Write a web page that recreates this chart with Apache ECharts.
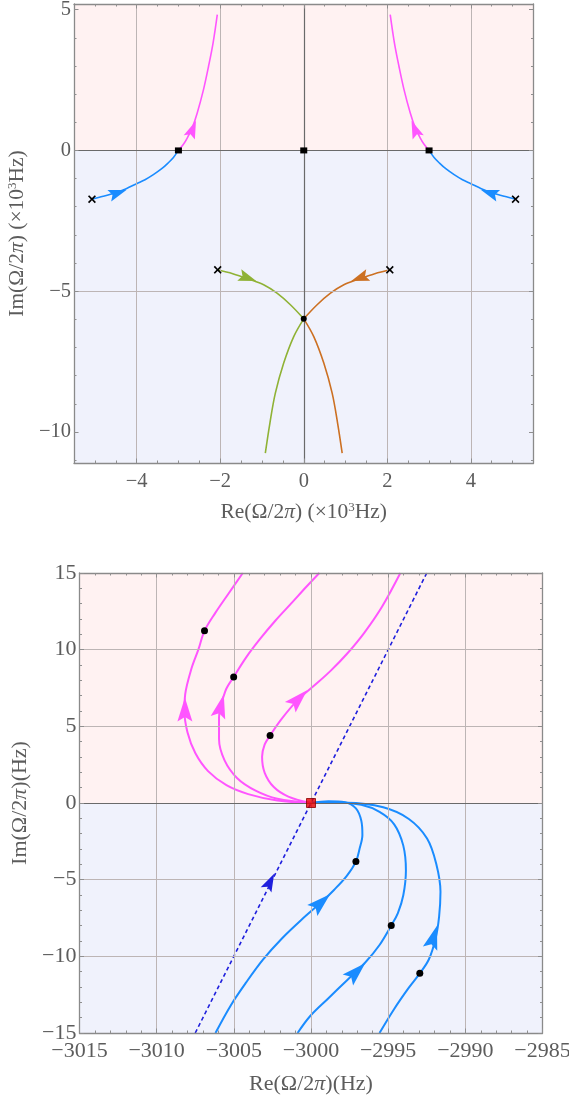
<!DOCTYPE html>
<html>
<head>
<meta charset="utf-8">
<script src="https://cdn.jsdelivr.net/npm/echarts@6/dist/echarts.min.js"></script>
<style>
  html, body { margin: 0; padding: 0; background: #fff; }
  #chart { width: 569px; height: 1097px; }
</style>
</head>
<body>
<div id="chart"></div>
<script>
// ---------- top panel, units of 10^3 Hz ----------
const topXRange = [-5.5, 5.5];
const topYRange = [-11.1, 5.2];
const topXTicks = [-4, -2, 0, 2, 4];
const topYTicks = [-10, -5, 0, 5];
const topXGrid = [-4, -2, 2, 4];
const topYGrid = [-5];

const topBlueLeft = [[-5.07, -1.73], [-4.8, -1.63], [-4.5, -1.5], [-4.25, -1.36], [-4.0, -1.18], [-3.8, -1.04],
  [-3.6, -0.86], [-3.4, -0.65], [-3.25, -0.45], [-3.12, -0.25], [-3.0, 0]];
const topBlueRight = [[5.07, -1.73], [4.8, -1.63], [4.5, -1.5], [4.25, -1.36], [4.0, -1.18], [3.8, -1.04],
  [3.6, -0.86], [3.4, -0.65], [3.25, -0.45], [3.12, -0.25], [3.0, 0]];
const topPinkLeft = [[-3.0, 0], [-2.88, 0.22], [-2.79, 0.44], [-2.67, 0.8], [-2.55, 1.33], [-2.4, 2.16],
  [-2.28, 2.98], [-2.17, 3.82], [-2.07, 4.82]];
const topPinkRight = [[3.0, 0], [2.88, 0.22], [2.79, 0.44], [2.67, 0.8], [2.55, 1.33], [2.4, 2.16],
  [2.28, 2.98], [2.17, 3.82], [2.07, 4.82]];
const topGreenUpper = [[-2.06, -4.24], [-1.7, -4.38], [-1.32, -4.57], [-0.96, -4.77], [-0.64, -5.07], [-0.32, -5.48], [0, -5.98]];
const topGreenLower = [[0, -5.98], [-0.24, -6.61], [-0.48, -7.55], [-0.68, -8.62], [-0.81, -9.68], [-0.92, -10.75]];
const topOrangeUpper = [[2.06, -4.24], [1.7, -4.38], [1.32, -4.57], [0.96, -4.77], [0.64, -5.07], [0.32, -5.48], [0, -5.98]];
const topOrangeLower = [[0, -5.98], [0.24, -6.61], [0.48, -7.55], [0.68, -8.62], [0.81, -9.68], [0.92, -10.75]];
const topCrosses = [[-5.07, -1.73], [5.07, -1.73], [-2.06, -4.24], [2.06, -4.24]];
const topSquares = [[-3, 0], [0, 0], [3, 0]];
const topDots = [[0, -5.98]];
// arrows: x, y, direction dx, dy
const topArrowsBlue = [[-4.45, -1.51, 0.55, 0.27], [4.45, -1.51, -0.55, 0.27]];
const topArrowsPink = [[-2.66, 0.76, 0.24, 0.89], [2.66, 0.76, -0.24, 0.89]];
const topArrowsGreen = [[-1.34, -4.53, 0.74, -0.39]];
const topArrowsOrange = [[1.34, -4.53, -0.74, -0.39]];

// ---------- bottom panel, units of Hz ----------
const botXRange = [-3015, -2985];
const botYRange = [-15, 15];
const botXTicks = [-3015, -3010, -3005, -3000, -2995, -2990, -2985];
const botYTicks = [-15, -10, -5, 0, 5, 10, 15];
const botXGrid = [-3010, -3005, -3000, -2995, -2990];
const botYGrid = [-10, -5, 5, 10];

const pinkOuter = [[-3000, 0], [-3002.18, 0.16], [-3004.07, 0.58], [-3005.48, 1.16], [-3006.67, 2.08], [-3007.49, 3.24],
  [-3008.0, 4.6], [-3008.2, 6.0], [-3008.15, 7.1], [-3007.75, 8.75], [-3007.3, 10.0], [-3006.9, 11.23],
  [-3006.2, 12.4], [-3005.35, 13.65], [-3004.42, 15.0]];
const pinkMid = [[-3000, 0], [-3002.18, 0.28], [-3003.59, 0.81], [-3004.78, 1.62], [-3005.6, 2.78], [-3005.96, 4.17],
  [-3005.96, 5.56], [-3005.55, 7.3], [-3005.01, 8.22], [-3004.2, 9.5], [-3003.3, 10.7], [-3002.3, 11.9],
  [-3001.25, 13.05], [-3000.3, 14.1], [-2999.46, 15.0]];
const pinkInner = [[-3000, 0], [-3001.47, 0.42], [-3002.41, 1.04], [-3003.0, 1.97], [-3003.17, 3.01], [-3003.0, 3.82],
  [-3002.65, 4.4], [-3001.94, 5.44], [-3000.87, 6.71], [-2999.81, 7.64], [-2998.75, 8.6], [-2997.65, 9.75],
  [-2996.55, 11.1], [-2995.4, 12.8], [-2994.21, 15.0]];
const blueInner = [[-3000, 0], [-2998.87, 0.12], [-2997.8, 0.05], [-2997.09, -0.35], [-2996.74, -1.16], [-2996.67, -2.08],
  [-2996.86, -3.01], [-2997.09, -3.82], [-2997.68, -4.75], [-2998.51, -5.67], [-2999.34, -6.48], [-3000.6, -7.6],
  [-3001.9, -8.85], [-3003.1, -10.2], [-3004.2, -11.7], [-3005.2, -13.2], [-3006.19, -15.0]];
const blueMid = [[-3000, 0], [-2998.39, 0.05], [-2996.74, -0.12], [-2995.56, -0.58], [-2994.61, -1.39], [-2994.02, -2.78],
  [-2993.85, -4.4], [-2994.02, -6.02], [-2994.37, -7.18], [-2994.8, -7.99], [-2995.56, -9.26], [-2996.5, -10.42],
  [-2997.68, -11.57], [-2998.87, -12.73], [-3000.05, -13.89], [-3000.87, -15.0]];
const blueOuter = [[-3000, 0], [-2997.68, 0.02], [-2995.32, -0.28], [-2993.66, -1.04], [-2992.48, -2.31], [-2991.89, -3.94],
  [-2991.61, -5.79], [-2991.7, -7.41], [-2991.92, -8.8], [-2992.36, -10.19], [-2992.95, -11.11], [-2993.66, -12.04],
  [-2994.61, -13.43], [-2995.56, -15.0]];
const dashedLine = [[-3007.5, -15], [-2992.5, 15]];
const botDots = [[-3006.9, 11.23], [-3005.01, 8.22], [-3002.65, 4.4], [-2997.09, -3.82], [-2994.8, -7.99], [-2992.95, -11.11]];
const botSquare = [[-3000, 0]];
const botArrowsPink = [[-3008.17, 6.1, 0, 1], [-3005.84, 6.32, 0.25, 1], [-3000.8, 6.8, 1, 1.03]];
const botArrowsBlue = [[-2999.34, -6.48, 1.09, 1], [-2997.05, -11.0, 1.03, 1], [-2992.06, -8.75, 0.3, 1]];
const botArrowsDash = [[-3002.65, -5.14, 1, 2]];

// ---------- styling ----------
const FONT = 'Liberation Serif';
const TXT = '#5c5c5c';
const FRAME = '#8a8a8a';
const TICK = '#8f8f8f';
const GRIDC = '#bdb5b5';
const PINK_BG = 'rgba(255,205,205,0.25)';
const BLUE_BG = 'rgba(228,231,250,0.55)';
const MAGENTA = '#ff55ff';
const BLUE = '#1a8cff';
const GREEN = '#8fb235';
const ORANGE = '#cc7022';
const DASHBLUE = '#1f1fdd';
const CROSS = 'path://M0,1.5L1.5,0L5,3.5L8.5,0L10,1.5L6.5,5L10,8.5L8.5,10L5,6.5L1.5,10L0,8.5L3.5,5Z';
const HEAD = 'path://M5,0L10,16L5,13L0,16Z';

const chart = echarts.init(document.getElementById('chart'));

const minus = v => String(v).replace('-', '\u2212');

function minorTicks(lo, hi, step, majors) {
  const out = [];
  for (let v = lo; v <= hi + 1e-9; v += step) {
    const r = Math.round(v * 1000) / 1000;
    if (!majors.includes(r)) out.push(r);
  }
  return out;
}

function nameRich(size) {
  return {
    i: { fontFamily: FONT, fontSize: size, color: TXT, fontStyle: 'italic' },
    s: { fontFamily: FONT, fontSize: Math.round(size * 0.62), color: TXT, verticalAlign: 'top' }
  };
}

// four frame sides per dimension: labelled side, its minor ticks, mirrored side, its minor ticks
function frameAxes(dim, gridIndex, range, major, minor, lab) {
  const sides = dim === 'x' ? ['bottom', 'top'] : ['left', 'right'];
  const axes = [];
  sides.forEach((pos, k) => {
    [major, minor].forEach((vals, m) => {
      const main = k === 0 && m === 0;
      const ax = {
        type: 'value', gridIndex, position: pos, min: range[0], max: range[1], z: 10,
        axisLine: { show: m === 0, onZero: false, lineStyle: { color: FRAME, width: 1.3 } },
        axisTick: { show: true, inside: true, length: m === 0 ? 4.5 : 2.5, customValues: vals,
          lineStyle: { color: TICK, width: 1 } },
        axisLabel: { show: false },
        splitLine: { show: false },
        minorTick: { show: false },
        axisPointer: { show: false }
      };
      if (main) {
        ax.axisLabel = {
          show: true, customValues: major, margin: lab.margin,
          formatter: v => '{t|' + minus(v) + '}',
          showMinLabel: true, showMaxLabel: true,
          fontFamily: FONT, fontSize: lab.tickSize, color: TXT,
          rich: { t: { fontFamily: FONT, fontSize: lab.tickSize, color: TXT } }
        };
        ax.name = lab.name;
        ax.nameLocation = 'middle';
        ax.nameGap = lab.nameGap;
        ax.nameTextStyle = { fontFamily: FONT, fontSize: lab.nameSize, color: TXT, rich: nameRich(lab.nameSize) };
      }
      axes.push(ax);
    });
  });
  return axes;
}

const xAxis = [].concat(
  frameAxes('x', 0, topXRange, topXTicks, minorTicks(-5, 5, 0.5, topXTicks),
    { name: 'Re(\u03a9/2{i|\u03c0}) (\u00d710{s|3}Hz)', nameGap: 38, nameSize: 21.5, tickSize: 20.5, margin: 8 }),
  frameAxes('x', 1, botXRange, botXTicks, minorTicks(-3014, -2986, 1, botXTicks),
    { name: 'Re(\u03a9/2{i|\u03c0})(Hz)', nameGap: 40, nameSize: 22, tickSize: 22, margin: 7 })
);
const yAxis = [].concat(
  frameAxes('y', 0, topYRange, topYTicks, minorTicks(-11, 5, 1, topYTicks),
    { name: 'Im(\u03a9/2{i|\u03c0}) (\u00d710{s|3}Hz)', nameGap: 46, nameSize: 21.5, tickSize: 20.5, margin: 3 }),
  frameAxes('y', 1, botYRange, botYTicks, minorTicks(-14, 14, 1, botYTicks),
    { name: 'Im(\u03a9/2{i|\u03c0})(Hz)', nameGap: 48, nameSize: 22, tickSize: 22, margin: 3 })
);

function backdrop(xi, yi, yr, gx, gy, zeroX) {
  const lines = gx.map(v => ({ xAxis: v })).concat(gy.map(v => ({ yAxis: v })));
  const zero = [{ yAxis: 0 }];
  if (zeroX) zero.push({ xAxis: 0 });
  return [
    { type: 'line', xAxisIndex: xi, yAxisIndex: yi, data: [], z: 1, silent: true,
      markLine: { silent: true, symbol: ['none', 'none'], label: { show: false }, animation: false,
        lineStyle: { color: GRIDC, width: 1, type: 'solid' }, data: lines } },
    { type: 'line', xAxisIndex: xi, yAxisIndex: yi, data: [], z: 2, silent: true,
      markArea: { silent: true, animation: false, data: [
        [{ yAxis: 0, itemStyle: { color: PINK_BG } }, { yAxis: yr[1] }],
        [{ yAxis: yr[0], itemStyle: { color: BLUE_BG } }, { yAxis: 0 }]
      ] } },
    { type: 'line', xAxisIndex: xi, yAxisIndex: yi, data: [], z: 3, silent: true,
      markLine: { silent: true, symbol: ['none', 'none'], label: { show: false }, animation: false,
        lineStyle: { color: '#6a6a6a', width: 1.2, type: 'solid' }, data: zero } }
  ];
}

function curve(data, color, width, xi, yi, extra) {
  return Object.assign({
    type: 'line', data, xAxisIndex: xi, yAxisIndex: yi, smooth: 0.35, showSymbol: false, symbol: 'none',
    silent: true, z: 4, lineStyle: { color, width }, itemStyle: { color }
  }, extra || {});
}

function marks(data, symbol, size, color, xi, yi, extra) {
  return Object.assign({
    type: 'scatter', data, symbol, symbolSize: size, xAxisIndex: xi, yAxisIndex: yi, silent: true, z: 6,
    itemStyle: { color, opacity: 1 }
  }, extra || {});
}

const arrowSets = [
  { id: 'a1', list: topArrowsBlue, color: BLUE, size: [12, 18], xi: 0, yi: 0 },
  { id: 'a2', list: topArrowsPink, color: MAGENTA, size: [12, 18], xi: 0, yi: 0 },
  { id: 'a3', list: topArrowsGreen, color: GREEN, size: [12, 18], xi: 0, yi: 0 },
  { id: 'a4', list: topArrowsOrange, color: ORANGE, size: [12, 18], xi: 0, yi: 0 },
  { id: 'a5', list: botArrowsPink, color: MAGENTA, size: [15, 24], xi: 4, yi: 4 },
  { id: 'a6', list: botArrowsBlue, color: BLUE, size: [15, 24], xi: 4, yi: 4 },
  { id: 'a7', list: botArrowsDash, color: DASHBLUE, size: [12, 18], xi: 4, yi: 4 }
];

const series = [].concat(
  backdrop(0, 0, topYRange, topXGrid, topYGrid, true),
  backdrop(4, 4, botYRange, botXGrid, botYGrid, false),
  [
    curve(topBlueLeft, BLUE, 1.6, 0, 0),
    curve(topBlueRight, BLUE, 1.6, 0, 0),
    curve(topPinkLeft, MAGENTA, 1.6, 0, 0),
    curve(topPinkRight, MAGENTA, 1.6, 0, 0),
    curve(topGreenUpper, GREEN, 1.6, 0, 0),
    curve(topGreenLower, GREEN, 1.6, 0, 0),
    curve(topOrangeUpper, ORANGE, 1.6, 0, 0),
    curve(topOrangeLower, ORANGE, 1.6, 0, 0),
    marks(topCrosses, CROSS, 8, '#000', 0, 0),
    marks(topSquares, 'rect', [7, 6], '#000', 0, 0),
    marks(topDots, 'circle', 6, '#000', 0, 0),

    curve(dashedLine, DASHBLUE, 1.6, 4, 4, { smooth: false, lineStyle: { color: DASHBLUE, width: 1.6, type: [4, 3] } }),
    curve(pinkOuter, MAGENTA, 2, 4, 4),
    curve(pinkMid, MAGENTA, 2, 4, 4),
    curve(pinkInner, MAGENTA, 2, 4, 4),
    curve(blueInner, BLUE, 2, 4, 4),
    curve(blueMid, BLUE, 2, 4, 4),
    curve(blueOuter, BLUE, 2, 4, 4),
    marks(botDots, 'circle', 7, '#000', 4, 4),
    marks(botSquare, 'rect', 9, '#e80000', 4, 4, { z: 7, itemStyle: { color: '#e80000', borderColor: '#8a0000', borderWidth: 1 } })
  ],
  arrowSets.map(a => marks([], HEAD, a.size, a.color, a.xi, a.yi, { id: a.id, z: 5 }))
);

chart.setOption({
  animation: false,
  backgroundColor: '#fff',
  textStyle: { fontFamily: FONT },
  grid: [
    { left: 74, top: 4, width: 459.5, height: 459, outerBoundsMode: 'none', containLabel: false },
    { left: 79.5, top: 573, width: 463, height: 460, outerBoundsMode: 'none', containLabel: false }
  ],
  xAxis,
  yAxis,
  series
});

// point each arrowhead along its curve, measured in pixels
function arrowItems(a) {
  const finder = { xAxisIndex: a.xi, yAxisIndex: a.yi };
  return a.list.map(([x, y, dx, dy]) => {
    const p0 = chart.convertToPixel(finder, [x, y]);
    const p1 = chart.convertToPixel(finder, [x + dx * 0.01, y + dy * 0.01]);
    const ang = Math.atan2(p0[1] - p1[1], p1[0] - p0[0]) * 180 / Math.PI;
    return { value: [x, y], symbolRotate: ang - 90 };
  });
}

chart.setOption({ series: arrowSets.map(a => ({ id: a.id, data: arrowItems(a) })) });
</script>
</body>
</html>
